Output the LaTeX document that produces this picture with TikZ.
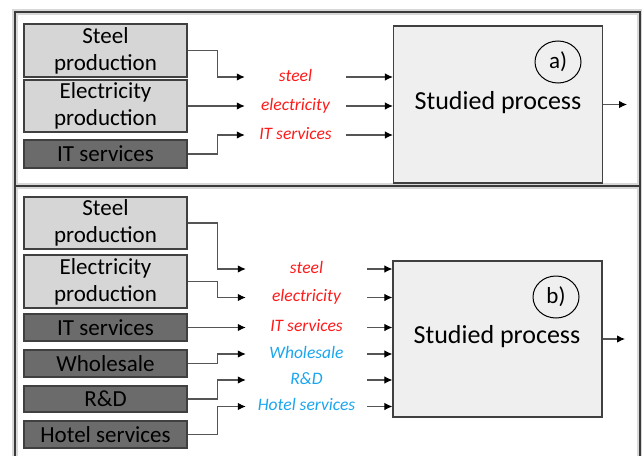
\documentclass[tikz,border=0pt]{standalone}
\usepackage{fontspec}
\setmainfont{Carlito}
\usetikzlibrary{arrows.meta,shapes.geometric,calc}
\definecolor{frameC}{HTML}{3A3A3A}
\definecolor{shadowC}{HTML}{D8D8D8}
\definecolor{boxline}{HTML}{404040}
\definecolor{lightfill}{HTML}{D6D6D6}
\definecolor{darkfill}{HTML}{6B6B6B}
\definecolor{procfill}{HTML}{EFEFEF}
\definecolor{lineC}{HTML}{555555}
\definecolor{redC}{HTML}{FF1A1A}
\definecolor{blueC}{HTML}{1AA6EE}
\newcommand{\lowlbl}[1]{\raisebox{-2pt}{#1}}
\begin{document}
\begin{tikzpicture}[x=1pt,y=-1pt,
  srcbox/.style={draw=boxline, line width=1.2pt, minimum width=163pt, inner sep=0pt, align=center,
     font=\fontsize{23}{27}\selectfont},
  lightbox/.style={srcbox, fill=lightfill},
  darkbox/.style={srcbox, fill=darkfill},
  lblA/.style={anchor=mid, minimum width=101pt, inner sep=0pt, font=\fontsize{17.5}{18}\selectfont\itshape},
  lblB/.style={anchor=mid, minimum width=121pt, inner sep=0pt, font=\fontsize{17.5}{18}\selectfont\itshape},
  proc/.style={draw=boxline, line width=1.2pt, fill=procfill, minimum width=209pt},
  proctext/.style={anchor=mid, font=\fontsize{26}{28}\selectfont, inner sep=0pt},
  tag/.style={ellipse, draw=black, line width=1pt, minimum width=46pt, minimum height=42pt, inner sep=0pt,
     font=\fontsize{23}{24}\selectfont},
  conn/.style={draw=lineC, line width=1.1pt, -{Latex[length=8pt,width=7.5pt,color=black]}},
  frame/.style={draw=frameC, line width=1.8pt},
  shadow/.style={draw=shadowC, line width=6pt}
]
\useasboundingbox (0,0) rectangle (642,455);
% frames
\draw[shadow] (15,12) rectangle (640,186);
\draw[shadow] (15,186) rectangle (640,470);
\draw[frame] (15,12) rectangle (640,186);
\draw[frame] (15,186) rectangle (640,470);

% ---------- panel a ----------
\node[lightbox, minimum height=53pt] (sa) at (105.5,50.5) {Steel\\production};
\node[lightbox, minimum height=52pt] (ea) at (105.5,106) {Electricity\\production};
\node[darkbox, minimum height=28pt] (ia) at (105.5,154) {IT services};

\node[proc, minimum height=157pt] (pa) at (498,104.5) {};
\node[proctext] (pta) at (498,107) {Studied process};
\node[tag] (ca) at (558,62) {a)};
\coordinate (outa) at (627,104.5);

\node[lblA, text=redC] (lsa) at (295.5,77) {\lowlbl{steel}};
\node[lblA, text=redC] (lea) at (295.5,106) {\lowlbl{electricity}};
\node[lblA, text=redC] (lia) at (295.5,135) {\lowlbl{IT services}};

\foreach \s/\l in {sa/lsa, ea/lea, ia/lia}{
  \draw[conn] (\s.east) -- ++(30,0) |- (\l.west |- \l.mid);
  \draw[conn] (\l.east |- \l.mid) -- (pa.west |- \l.mid);
}
\draw[conn] (pa.east) -- (outa);

% ---------- panel b ----------
\node[lightbox, minimum height=52pt] (sb) at (105.5,223) {Steel\\production};
\node[lightbox, minimum height=53pt] (eb) at (105.5,281.5) {Electricity\\production};
\node[darkbox, minimum height=27pt] (ib) at (105.5,327.5) {IT services};
\node[darkbox, minimum height=27pt] (wb) at (105.5,363.5) {Wholesale};
\node[darkbox, minimum height=26pt] (rb) at (105.5,399) {R\&D};
\node[darkbox, minimum height=27pt] (hb) at (105.5,434.5) {Hotel services};

\node[proc, minimum height=156pt] (pb) at (497.5,339) {};
\node[proctext] (ptb) at (497,341) {Studied process};
\node[tag] (cb) at (556,297) {b)};
\coordinate (outb) at (625,339);

\node[lblB, text=redC] (lsb) at (306.5,269) {\lowlbl{steel}};
\node[lblB, text=redC] (leb) at (306.5,297.5) {\lowlbl{electricity}};
\node[lblB, text=redC] (lib) at (306.5,327.5) {\lowlbl{IT services}};
\node[lblB, text=blueC] (lwb) at (306.5,354) {\lowlbl{Wholesale}};
\node[lblB, text=blueC] (lrb) at (306.5,380) {\lowlbl{R\&D}};
\node[lblB, text=blueC] (lhb) at (306.5,406.5) {\lowlbl{Hotel services}};

\foreach \s/\l in {sb/lsb, eb/leb, ib/lib, wb/lwb, rb/lrb, hb/lhb}{
  \draw[conn] (\s.east) -- ++(30,0) |- (\l.west |- \l.mid);
  \draw[conn] (\l.east |- \l.mid) -- (pb.west |- \l.mid);
}
\draw[conn] (pb.east) -- (outb);
\end{tikzpicture}
\end{document}
